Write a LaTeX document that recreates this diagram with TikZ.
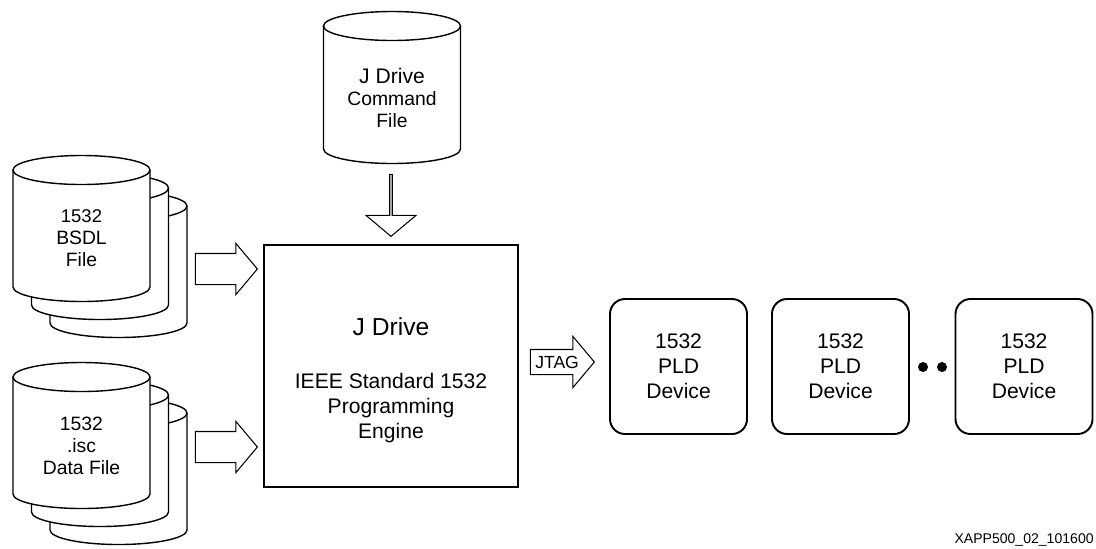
\documentclass[tikz,border=0pt]{standalone}
\usepackage{fontspec}
\setmainfont{Liberation Sans}
\usetikzlibrary{shapes.arrows, shapes.geometric}

\tikzstyle{disk}=[draw=black,
                  fill=white,
                  line width=0.8pt
                 ]
\tikzstyle{label}=[text centered,
                   align=center,
                   inner sep=0pt,
                   font=\fontsize{11}{12.5}\selectfont
                  ]
\tikzstyle{engine}=[rectangle,
                    draw=black,
                    line width=1.1pt,
                    minimum width=5.08cm,
                    minimum height=4.84cm,
                    text centered,
                    align=center,
                    font=\fontsize{12}{14.2}\selectfont
                   ]
\tikzstyle{device}=[rectangle,
                    draw=black,
                    rounded corners=0.3cm,
                    line width=1.1pt,
                    minimum width=2.74cm,
                    minimum height=2.7cm,
                    text centered,
                    align=center,
                    font=\fontsize{12}{14.2}\selectfont
                   ]
\tikzstyle{fatarrow}=[single arrow,
                      draw=black,
                      line width=0.6pt,
                      minimum height=1.24cm,
                      minimum width=1.0cm,
                      single arrow head extend=0.2cm,
                      single arrow tip angle=100,
                      inner xsep=0pt,
                      inner ysep=0.3cm
                     ]
\tikzstyle{chaindot}=[circle, fill=black, minimum size=0.2cm, inner sep=0pt]

% drum: x, y of top ellipse, y of bottom ellipse, name, text
\newcommand{\drum}[5]{
  \draw[disk] ({#1-1.37}, #2) -- ({#1-1.37}, #3)
    arc[start angle=180, end angle=360, x radius=1.37cm, y radius=0.29cm]
    -- ({#1+1.37}, #2)
    arc[start angle=0, end angle=180, x radius=1.37cm, y radius=0.29cm] -- cycle;
  \draw[disk] ({#1-1.37}, #2) arc[start angle=180, end angle=360, x radius=1.37cm, y radius=0.29cm];
  \node at ({#1}, {(#2+#3)/2-0.2}) (#4) [label] {#5};
}

\begin{document}
\begin{tikzpicture}
  \useasboundingbox (0cm, 0cm) rectangle (21.92cm, -10.96cm);

  % command file on top
  \drum{7.84}{-0.52}{-2.98}{cmd}{\fontsize{12}{12.5}\selectfont J Drive\\Command\\File}

  % BSDL stack
  \drum{2.37}{-4.12}{-6.46}{bsdl3}{}
  \drum{2.00}{-3.76}{-6.10}{bsdl2}{}
  \drum{1.63}{-3.40}{-5.74}{bsdl1}{\fontsize{10.5}{11.4}\selectfont 1532\\BSDL\\File}

  % data file stack
  \drum{2.37}{-8.26}{-10.60}{isc3}{}
  \drum{2.00}{-7.90}{-10.24}{isc2}{}
  \drum{1.63}{-7.54}{-9.88}{isc1}{\fontsize{11}{13.5}\selectfont 1532\\.isc\\Data File}

  % engine
  \node at (7.82cm, -7.32cm) (main) [engine] {\mbox{}\\[0.42cm]{\fontsize{14}{17}\selectfont J Drive}\\[0.56cm]
    IEEE Standard 1532\\Programming\\Engine};

  \node at ([yshift=0.14cm]main.north) (down) [fatarrow, anchor=tip, shape border rotate=270] {};
  \node at ([shift={(-0.1cm, 1.94cm)}]main.west) (in1) [fatarrow, anchor=tip] {};
  \node at ([shift={(-0.1cm, -1.62cm)}]main.west) (in2) [fatarrow, anchor=tip] {};

  % devices
  \node at (13.57cm, -7.33cm) (dev1) [device] {1532\\PLD\\Device};
  \node at (16.81cm, -7.33cm) (dev2) [device] {1532\\PLD\\Device};
  \node at (20.48cm, -7.33cm) (dev3) [device] {1532\\PLD\\Device};

  \node at ([shift={(-0.28cm, 0.09cm)}]dev1.west) (jtag) [fatarrow, anchor=tip, minimum height=1.28cm,
    single arrow head extend=0.26cm, inner xsep=0.02cm, inner ysep=0.12cm, text height=0.24cm, text depth=0cm,
    font=\fontsize{10}{11}\selectfont] {JTAG};

  \node at (18.46cm, -7.34cm) (d1) [chaindot] {};
  \node at (18.84cm, -7.34cm) (d2) [chaindot] {};

  \node at (21.88cm, -10.94cm) (tag) [anchor=south east, inner sep=0pt, font=\fontsize{8}{9}\selectfont] {XAPP500\_02\_101600};
\end{tikzpicture}
\end{document}
